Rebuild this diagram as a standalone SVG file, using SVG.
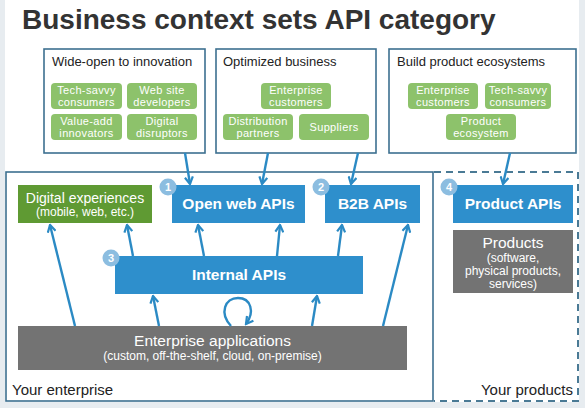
<svg xmlns="http://www.w3.org/2000/svg" width="585" height="408" viewBox="0 0 585 408">
<defs>
<marker id="chev" viewBox="0 0 10 10" refX="8.5" refY="5" markerWidth="10" markerHeight="10" markerUnits="userSpaceOnUse" orient="auto">
<path d="M1.5,1 L8.5,5 L1.5,9" fill="none" stroke="#2b8ac4" stroke-width="2.2" stroke-linejoin="miter"/>
</marker>
</defs>
<style>
text{font-family:"Liberation Sans",Arial,sans-serif}
.frame{fill:#fff;stroke:#3d7090;stroke-width:1.6}
.pill{fill:#8dc26b}
.pt{fill:#fff;font-size:11px;letter-spacing:0.35px;text-anchor:middle}
.bt{fill:#222;font-size:13px}
.blue{fill:#2e8fcc}
.api{fill:#fff;font-size:15.5px;font-weight:bold;text-anchor:middle}
.gray{fill:#737373}
.wt{fill:#fff;text-anchor:middle}
.badge{fill:#8cbde0}
.bn{fill:#fff;font-size:11px;font-weight:bold;text-anchor:middle}
.conn{fill:none;stroke:#2b8ac4;stroke-width:2.4;marker-end:url(#chev)}
.lbl{fill:#222;font-size:15px}
</style>
<rect x="0" y="0" width="585" height="408" fill="#e7ecf0"/>
<rect x="5" y="0" width="574" height="402" fill="#fff"/>
<text x="22" y="29" font-size="28" font-weight="bold" fill="#333">Business context sets API category</text>

<g id="enterprise">
<rect x="6" y="172" width="427" height="229" fill="none" stroke="#3d7090" stroke-width="1.6"/>
<text class="lbl" x="12" y="395">Your enterprise</text>
</g>
<g id="products-zone">
<path d="M434,172 H578 V401 H434" fill="none" stroke="#4a7a95" stroke-width="2" stroke-dasharray="7,5"/>
<text class="lbl" x="573" y="395" text-anchor="end">Your products</text>
</g>

<g id="ctx-wide-open">
<rect class="frame" x="44" y="49" width="161" height="104"/>
<text class="bt" x="52" y="66">Wide-open to innovation</text>
<rect class="pill" x="51" y="83" width="71" height="26" rx="4"/>
<text class="pt" x="86.5" y="93.5">Tech-savvy</text><text class="pt" x="86.5" y="106">consumers</text>
<rect class="pill" x="127" y="83" width="70" height="26" rx="4"/>
<text class="pt" x="162" y="93.5">Web site</text><text class="pt" x="162" y="106">developers</text>
<rect class="pill" x="51" y="114" width="71" height="26" rx="4"/>
<text class="pt" x="86.5" y="124.5">Value-add</text><text class="pt" x="86.5" y="137">innovators</text>
<rect class="pill" x="127" y="114" width="70" height="26" rx="4"/>
<text class="pt" x="162" y="124.5">Digital</text><text class="pt" x="162" y="137">disruptors</text>
</g>

<g id="ctx-optimized">
<rect class="frame" x="216" y="49" width="160" height="104"/>
<text class="bt" x="223" y="66">Optimized business</text>
<rect class="pill" x="261" y="83" width="70" height="26" rx="4"/>
<text class="pt" x="296" y="93.5">Enterprise</text><text class="pt" x="296" y="106">customers</text>
<rect class="pill" x="223" y="114" width="70" height="26" rx="4"/>
<text class="pt" x="258" y="124.5">Distribution</text><text class="pt" x="258" y="137">partners</text>
<rect class="pill" x="299" y="114" width="70" height="26" rx="4"/>
<text class="pt" x="334" y="131" font-size="12">Suppliers</text>
</g>

<g id="ctx-ecosystems">
<rect class="frame" x="389" y="49" width="187" height="104"/>
<text class="bt" x="397" y="66">Build product ecosystems</text>
<rect class="pill" x="408" y="83" width="70" height="26" rx="4"/>
<text class="pt" x="443" y="93.5">Enterprise</text><text class="pt" x="443" y="106">customers</text>
<rect class="pill" x="485" y="83" width="66" height="26" rx="4"/>
<text class="pt" x="518" y="93.5">Tech-savvy</text><text class="pt" x="518" y="106">consumers</text>
<rect class="pill" x="446" y="114" width="70" height="26" rx="4"/>
<text class="pt" x="481" y="124.5">Product</text><text class="pt" x="481" y="137">ecosystem</text>
</g>

<g id="digital-experiences">
<rect x="18" y="185" width="134" height="38" fill="#5f9a33"/>
<text class="wt" x="85" y="203" font-size="14">Digital experiences</text>
<text class="wt" x="85" y="216" font-size="12">(mobile, web, etc.)</text>
</g>

<g id="open-web-apis">
<rect class="blue" x="172" y="185" width="133" height="38"/>
<text class="api" x="238.5" y="209">Open web APIs</text>
<circle class="badge" cx="168" cy="187" r="8.5"/><text class="bn" x="168" y="191">1</text>
</g>

<g id="b2b-apis">
<rect class="blue" x="325" y="185" width="95" height="38"/>
<text class="api" x="372.5" y="209">B2B APIs</text>
<circle class="badge" cx="321" cy="187" r="8.5"/><text class="bn" x="321" y="191">2</text>
</g>

<g id="internal-apis">
<rect class="blue" x="115" y="256" width="248" height="38"/>
<text class="api" x="239" y="280">Internal APIs</text>
<circle class="badge" cx="111" cy="258" r="8.5"/><text class="bn" x="111" y="262">3</text>
</g>

<g id="product-apis">
<rect class="blue" x="453" y="185" width="120" height="38"/>
<text class="api" x="513" y="209">Product APIs</text>
<circle class="badge" cx="449" cy="187" r="8.5"/><text class="bn" x="449" y="191">4</text>
</g>

<g id="products">
<rect class="gray" x="453" y="230" width="120" height="63"/>
<text class="wt" x="513" y="248" font-size="15.5">Products</text>
<text class="wt" x="513" y="262" font-size="12">(software,</text>
<text class="wt" x="513" y="275" font-size="12">physical products,</text>
<text class="wt" x="513" y="288" font-size="12">services)</text>
</g>

<g id="enterprise-applications">
<rect class="gray" x="18" y="326" width="389" height="44"/>
<text class="wt" x="212.5" y="346" font-size="15.5">Enterprise applications</text>
<text class="wt" x="212.5" y="360" font-size="12">(custom, off-the-shelf, cloud, on-premise)</text>
</g>

<g id="connectors">
<path class="conn" d="M185,153 L190,184"/>
<path class="conn" d="M268,153 L262,184"/>
<path class="conn" d="M358,153 L351,184"/>
<path class="conn" d="M510,153 L503,184"/>
<path class="conn" d="M75,326 L50,225"/>
<path class="conn" d="M133,256 L127,225"/>
<path class="conn" d="M204,256 L198,225"/>
<path class="conn" d="M277,256 L280,225"/>
<path class="conn" d="M338,256 L342,225"/>
<path class="conn" d="M383,326 L408,225"/>
<path class="conn" d="M159,326 L153,296"/>
<path class="conn" d="M312,326 L317,296"/>
<path class="conn" d="M231,326 C219,313 225,298 238,298 C251,298 255,312 246,324"/>
</g>
</svg>
